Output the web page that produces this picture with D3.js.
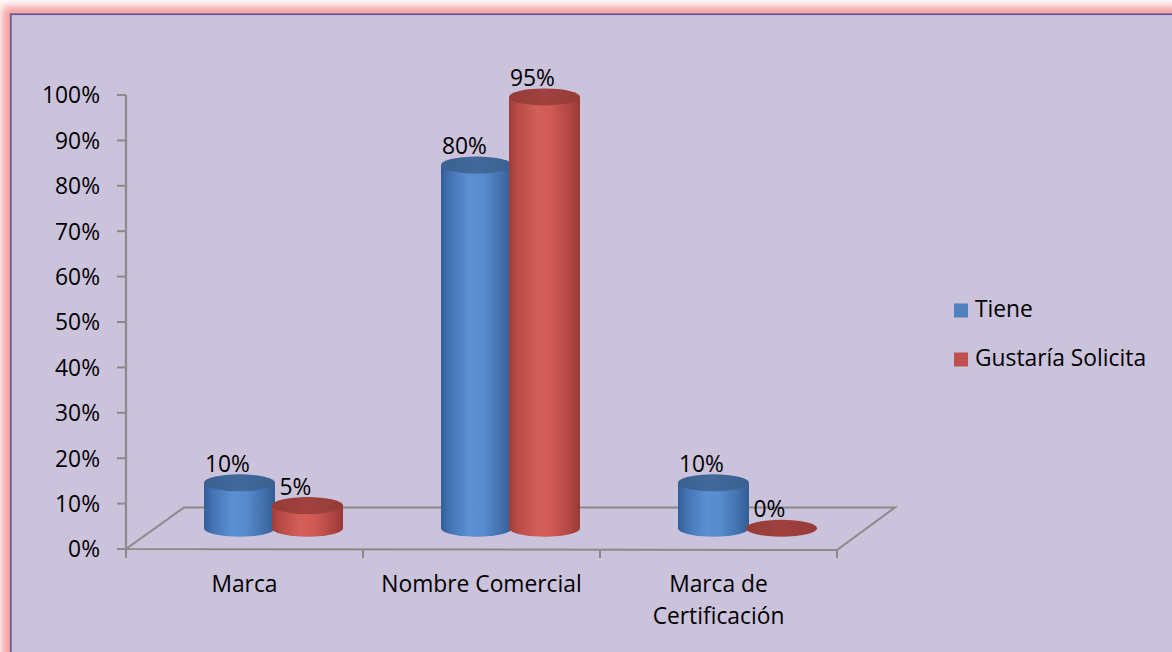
<!DOCTYPE html>
<html>
<head>
<meta charset="utf-8">
<script src="https://cdn.jsdelivr.net/npm/d3@7"></script>
<style>
  html, body { margin: 0; padding: 0; background: #ffffff; }
  svg { display: block; }
  text { font-family: "Open Sans", "Noto Sans", sans-serif; fill: #000; }
</style>
</head>
<body>
<svg id="chart" width="1172" height="652"></svg>
<script>
// ---- data ----
const categories = ["Marca", "Nombre Comercial", "Marca de Certificación"];
const seriesNames = ["Tiene", "Gustaría Solicita"];
const tiene = [0.10, 0.80, 0.10];
const gustaria = [0.05, 0.95, 0.00];
const yTicks = [0, 0.1, 0.2, 0.3, 0.4, 0.5, 0.6, 0.7, 0.8, 0.9, 1.0];

const series = [
  { name: seriesNames[0], values: tiene, key: "blue" },
  { name: seriesNames[1], values: gustaria, key: "red" }
];

// ---- layout ----
const W = 1172, H = 652;
const svg = d3.select("#chart");
const FONT = 22.8;

// 3D floor depth offset (back plane relative to front plane)
const depthX = 58, depthY = -41.5;
const midX = depthX / 2, midY = depthY / 2;

const x = d3.scaleBand().domain(categories).range([126, 837]).padding(0);
const y = d3.scaleLinear().domain([0, 1]).range([549, 95]);
const inner = d3.scaleBand().domain(seriesNames)
  .range([x.bandwidth() / 2 - 68, x.bandwidth() / 2 + 68]).padding(0);

const rx = 35.5, ry = 8.5;

// ---- defs ----
const defs = svg.append("defs");
const glow = defs.append("filter").attr("id", "glow")
  .attr("x", "-10%").attr("y", "-10%").attr("width", "120%").attr("height", "120%");
glow.append("feGaussianBlur").attr("stdDeviation", 4);

function hGrad(id, stops) {
  const g = defs.append("linearGradient").attr("id", id)
    .attr("x1", "0%").attr("x2", "100%").attr("y1", "0%").attr("y2", "0%");
  stops.forEach(([o, c]) => g.append("stop").attr("offset", o).attr("stop-color", c));
}
hGrad("blueBody", [["0%", "#335d97"], ["12%", "#4473b3"], ["40%", "#5a90d4"], ["60%", "#568bcc"], ["86%", "#416fab"], ["100%", "#345d92"]]);
hGrad("blueTop", [["0%", "#3a6190"], ["50%", "#41699a"], ["100%", "#3a6190"]]);
hGrad("redBody", [["0%", "#a03c39"], ["12%", "#b84a46"], ["40%", "#d45f59"], ["60%", "#cf5a55"], ["86%", "#b04541"], ["100%", "#983936"]]);
hGrad("redTop", [["0%", "#963b38"], ["50%", "#a0423f"], ["100%", "#963b38"]]);

// ---- frame ----
svg.append("rect").attr("x", 0).attr("y", 0).attr("width", W).attr("height", H).attr("fill", "#ffffff");
svg.append("rect").attr("x", 10).attr("y", 14).attr("width", W + 40).attr("height", H + 40)
  .attr("fill", "none").attr("stroke", "#f6a0a0").attr("stroke-width", 16).attr("filter", "url(#glow)");
svg.append("rect").attr("x", 10.8).attr("y", 14.2).attr("width", W + 40).attr("height", H + 40)
  .attr("fill", "#cbc2db").attr("stroke", "#6a5a94").attr("stroke-width", 1.8);

// ---- floor ----
const gridColor = "#8a8a8a";
const x0 = x.range()[0], x1 = x.range()[1], yb = y(0);
svg.append("path")
  .attr("d", `M${x0},${yb} L${x1},${yb + 1} L${x1 + depthX},${yb + depthY} L${x0 + depthX},${yb + depthY} Z`)
  .attr("fill", "none").attr("stroke", gridColor).attr("stroke-width", 2).attr("stroke-linejoin", "miter");

// ---- value axis ----
svg.append("line").attr("x1", x0).attr("x2", x0).attr("y1", y(1)).attr("y2", yb)
  .attr("stroke", gridColor).attr("stroke-width", 2.2);
const yAxis = svg.append("g");
yTicks.forEach(t => {
  yAxis.append("line").attr("x1", x0 - 9).attr("x2", x0).attr("y1", y(t)).attr("y2", y(t))
    .attr("stroke", gridColor).attr("stroke-width", 2);
  yAxis.append("text").attr("x", 100).attr("y", y(t)).attr("dy", "0.37em")
    .attr("text-anchor", "end").attr("font-size", FONT)
    .text(d3.format(".0%")(t));
});

// ---- category axis ticks ----
const catTicks = categories.map(c => x(c)).concat([x1]);
catTicks.forEach((cx, i) => {
  svg.append("line").attr("x1", cx).attr("x2", cx).attr("y1", yb + (i === catTicks.length - 1 ? 1 : 0)).attr("y2", yb + 9)
    .attr("stroke", gridColor).attr("stroke-width", 2);
});

// ---- category labels (wrapped) ----
categories.forEach(c => {
  const t = svg.append("text").attr("x", x(c) + x.bandwidth() / 2).attr("y", 592)
    .attr("text-anchor", "middle").attr("font-size", FONT);
  const words = c.split(" ");
  let line = [];
  let tspan = t.append("tspan").attr("x", x(c) + x.bandwidth() / 2).attr("dy", 0);
  words.forEach(w => {
    line.push(w);
    tspan.text(line.join(" "));
    if (tspan.node().getComputedTextLength() > 215 && line.length > 1) {
      line.pop();
      tspan.text(line.join(" "));
      line = [w];
      tspan = t.append("tspan").attr("x", x(c) + x.bandwidth() / 2).attr("dy", 32).text(w);
    }
  });
});

// ---- cylinders ----
const bars = svg.append("g");
categories.forEach((c, ci) => {
  series.forEach(s => {
    const v = s.values[ci];
    const cx = x(c) + inner(s.name) + inner.bandwidth() / 2 + midX;
    const yTop = y(v) + midY;
    const yBase = y(0) + midY;
    const g = bars.append("g");
    if (v > 0) {
      g.append("path")
        .attr("d", `M${cx - rx},${yTop} L${cx - rx},${yBase} A${rx},${ry} 0 0 0 ${cx + rx},${yBase} L${cx + rx},${yTop} Z`)
        .attr("fill", `url(#${s.key}Body)`);
    }
    g.append("ellipse").attr("cx", cx).attr("cy", yTop).attr("rx", rx).attr("ry", ry)
      .attr("fill", `url(#${s.key}Top)`);
    // value label
    svg.append("text").attr("x", cx - 12).attr("y", yTop - ry - 2.5)
      .attr("text-anchor", "middle").attr("font-size", FONT)
      .text(d3.format(".0%")(v));
  });
});

// ---- legend ----
const legend = svg.append("g");
const legendColors = { blue: "#4f81bd", red: "#c0504d" };
series.forEach((s, i) => {
  const ly = 317 + i * 49;
  legend.append("rect").attr("x", 954).attr("y", ly - 13.5).attr("width", 14).attr("height", 14)
    .attr("fill", legendColors[s.key]);
  legend.append("text").attr("x", 975).attr("y", ly).attr("font-size", FONT).text(s.name);
});
</script>
</body>
</html>
